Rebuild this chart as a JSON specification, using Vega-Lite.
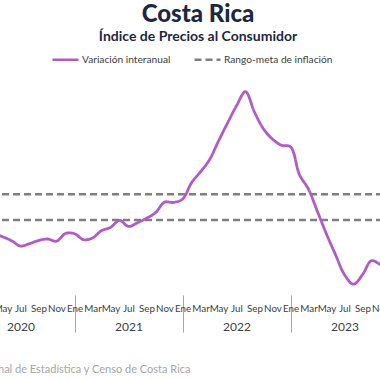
{
  "$schema": "https://vega.github.io/schema/vega-lite/v6.json",
  "width": 432,
  "height": 231,
  "autosize": {"type": "none"},
  "padding": {"left": -38, "top": 66, "right": -14, "bottom": 83},
  "background": "white",
  "title": {
    "text": "Costa Rica",
    "subtitle": "Índice de Precios al Consumidor",
    "anchor": "middle",
    "dx": 20,
    "font": "Lato",
    "fontSize": 24,
    "fontWeight": 900,
    "color": "#1c2841",
    "subtitleFont": "Lato",
    "subtitleFontSize": 14,
    "subtitleFontWeight": "bold",
    "subtitleColor": "#1c2841",
    "subtitlePadding": 3,
    "offset": 1
  },
  "config": {"view": {"stroke": null}, "font": "Lato"},
  "datasets": {
    "ipc": [
      {"mes": "2020-01", "valor": 1.56}, {"mes": "2020-02", "valor": 1.76}, {"mes": "2020-03", "valor": 1.72},
      {"mes": "2020-04", "valor": 1.0}, {"mes": "2020-05", "valor": 0.7}, {"mes": "2020-06", "valor": 0.39},
      {"mes": "2020-07", "valor": -0.03}, {"mes": "2020-08", "valor": 0.16}, {"mes": "2020-09", "valor": 0.4},
      {"mes": "2020-10", "valor": 0.52}, {"mes": "2020-11", "valor": 0.35}, {"mes": "2020-12", "valor": 0.95},
      {"mes": "2021-01", "valor": 0.93}, {"mes": "2021-02", "valor": 0.47}, {"mes": "2021-03", "valor": 0.6},
      {"mes": "2021-04", "valor": 1.17}, {"mes": "2021-05", "valor": 1.42}, {"mes": "2021-06", "valor": 1.97},
      {"mes": "2021-07", "valor": 1.5}, {"mes": "2021-08", "valor": 1.79}, {"mes": "2021-09", "valor": 2.14},
      {"mes": "2021-10", "valor": 2.57}, {"mes": "2021-11", "valor": 3.39}, {"mes": "2021-12", "valor": 3.37},
      {"mes": "2022-01", "valor": 3.62}, {"mes": "2022-02", "valor": 4.9}, {"mes": "2022-03", "valor": 5.75},
      {"mes": "2022-04", "valor": 6.7}, {"mes": "2022-05", "valor": 8.15}, {"mes": "2022-06", "valor": 9.55},
      {"mes": "2022-07", "valor": 10.9}, {"mes": "2022-08", "valor": 12.0}, {"mes": "2022-09", "valor": 10.4},
      {"mes": "2022-10", "valor": 9.1}, {"mes": "2022-11", "valor": 8.3}, {"mes": "2022-12", "valor": 7.82},
      {"mes": "2023-01", "valor": 7.7}, {"mes": "2023-02", "valor": 5.53}, {"mes": "2023-03", "valor": 4.4},
      {"mes": "2023-04", "valor": 2.65}, {"mes": "2023-05", "valor": 0.9}, {"mes": "2023-06", "valor": -0.7},
      {"mes": "2023-07", "valor": -2.26}, {"mes": "2023-08", "valor": -3.0}, {"mes": "2023-09", "valor": -2.26},
      {"mes": "2023-10", "valor": -1.17}, {"mes": "2023-11", "valor": -1.48}, {"mes": "2023-12", "valor": -1.8}
    ],
    "meta": [{"valor": 2}, {"valor": 4}]
  },
  "layer": [
    {
      "data": {"name": "ipc"},
      "mark": {"type": "point", "opacity": 0},
      "encoding": {
        "x": {
          "field": "mes",
          "type": "ordinal",
          "axis": {
            "orient": "bottom",
            "title": "Fuente: Instituto Nacional de Estadística y Censo de Costa Rica",
            "values": ["2020-01", "2021-01", "2022-01", "2023-01"],
            "bandPosition": 0,
            "domain": false,
            "ticks": true,
            "tickSize": 37,
            "tickColor": "#a6a6a6",
            "tickWidth": 1,
            "offset": -2,
            "labelOffset": 54,
            "labelPadding": -11,
            "labelExpr": "slice(datum.value, 0, 4)",
            "labelFont": "Lato",
            "labelFontSize": 12,
            "labelColor": "#404040",
            "labelAngle": 0,
            "labelOverlap": false,
            "grid": false,
            "titleAlign": "right",
            "titleAnchor": null,
            "titleX": 228,
            "titleY": 74,
            "titleBaseline": "middle",
            "titleFont": "Lato",
            "titleFontSize": 11,
            "titleFontWeight": "normal",
            "titleColor": "#a6a6a6"
          }
        }
      }
    },
    {
      "mark": {"type": "rule", "color": "#a6a6a6", "strokeWidth": 1},
      "encoding": {"y": {"datum": 0, "type": "quantitative", "scale": {"domain": [-4, 14]}, "axis": null}}
    },
    {
      "data": {"name": "meta"},
      "mark": {"type": "rule", "strokeWidth": 2.5},
      "encoding": {
        "y": {"field": "valor", "type": "quantitative", "axis": null},
        "color": {"datum": "Rango-meta de inflación"},
        "strokeDash": {"datum": "Rango-meta de inflación"}
      }
    },
    {
      "data": {"name": "ipc"},
      "mark": {"type": "line", "interpolate": "catmull-rom", "strokeWidth": 2.8},
      "encoding": {
        "x": {
          "field": "mes",
          "type": "ordinal",
          "axis": {
            "orient": "bottom",
            "title": null,
            "domain": false,
            "ticks": false,
            "tickSize": 0,
            "labelPadding": 6,
            "labelExpr": "['Ene','','Mar','','May','','Jul','','Sep','','Nov',''][toNumber(slice(datum.value, 5)) - 1]",
            "labelFont": "Lato",
            "labelFontSize": 9.8,
            "labelColor": "#404040",
            "labelAngle": 0,
            "labelOverlap": false,
            "grid": false
          }
        },
        "y": {"field": "valor", "type": "quantitative", "axis": null},
        "color": {
          "datum": "Variación interanual",
          "scale": {"domain": ["Variación interanual", "Rango-meta de inflación"], "range": ["#b05cc6", "#7f7f7f"]},
          "legend": {
            "title": null,
            "orient": "none",
            "legendX": 89,
            "legendY": -21,
            "direction": "horizontal",
            "symbolType": "stroke",
            "symbolSize": 676,
            "symbolStrokeWidth": 2.5,
            "labelFont": "Lato",
            "labelFontSize": 10.2,
            "labelColor": "#404040",
            "columnPadding": 18,
            "labelOffset": 2
          }
        },
        "strokeDash": {
          "datum": "Variación interanual",
          "scale": {"domain": ["Variación interanual", "Rango-meta de inflación"], "range": [[1, 0], [7, 4]]},
          "legend": {
            "title": null,
            "orient": "none",
            "legendX": 89,
            "legendY": -21,
            "direction": "horizontal",
            "symbolType": "stroke",
            "symbolSize": 676,
            "symbolStrokeWidth": 2.5,
            "labelFont": "Lato",
            "labelFontSize": 10.2,
            "labelColor": "#404040",
            "columnPadding": 18,
            "labelOffset": 2
          }
        }
      }
    }
  ],
  "resolve": {"axis": {"x": "independent"}}
}
